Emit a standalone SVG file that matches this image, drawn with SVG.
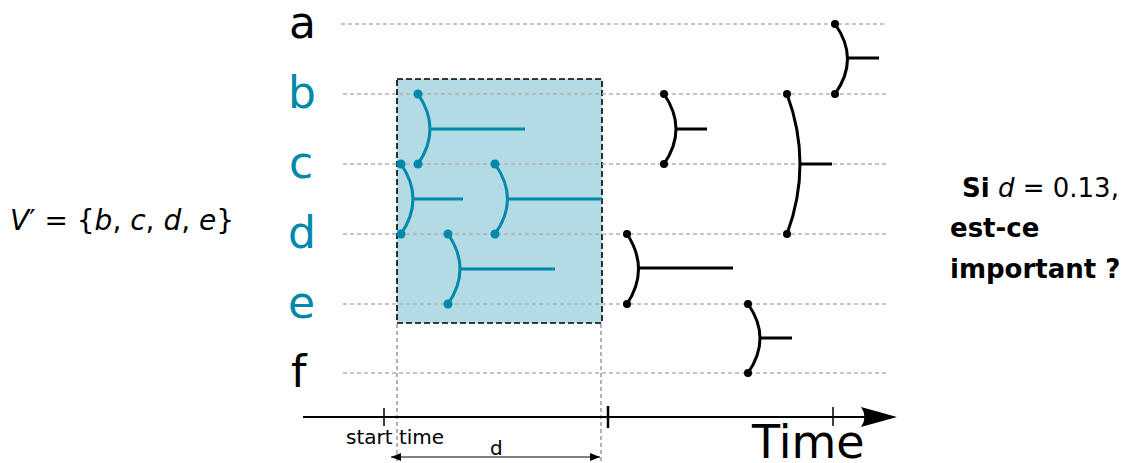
<svg xmlns="http://www.w3.org/2000/svg" width="1134" height="463" viewBox="0 0 1134 463">
<defs>
<style>
.grid{stroke:#b3b3b3;stroke-width:1.5;stroke-dasharray:4,3;fill:none}
.vgrid{stroke:#999;stroke-width:1.5;stroke-dasharray:4,3;fill:none}
.lbl{font-family:"DejaVu Sans",sans-serif;font-size:44px}
.blue{fill:#0088aa}
.blk{fill:#000}
.mb path,.mb line{stroke:#0088aa;stroke-width:3;fill:none}
.mb circle{fill:#0088aa}
.mk path,.mk line{stroke:#000;stroke-width:3;fill:none}
.mk circle{fill:#000}
.txt{font-family:"DejaVu Sans",sans-serif}
</style>
<marker id="ah" viewBox="0 0 10 8" refX="10" refY="4" markerWidth="10" markerHeight="8" markerUnits="userSpaceOnUse" orient="auto-start-reverse">
<path d="M0,0 L10,4 L0,8 Z" fill="#000"/>
</marker>
</defs>
<rect width="1134" height="463" fill="#fff"/>

<g id="window">
<rect x="397" y="79" width="205" height="244" fill="#b3dbe6" stroke="#000" stroke-width="1.6" stroke-dasharray="6,3"/>
</g>

<g id="rows">
<line class="grid" x1="341" y1="24" x2="887" y2="24"/>
<line class="grid" x1="343" y1="94" x2="887" y2="94"/>
<line class="grid" x1="343" y1="164" x2="887" y2="164"/>
<line class="grid" x1="343" y1="234" x2="887" y2="234"/>
<line class="grid" x1="343" y1="304" x2="887" y2="304"/>
<line class="grid" x1="343" y1="373" x2="887" y2="373"/>
<line class="vgrid" x1="397" y1="324" x2="397" y2="463"/>
<line class="vgrid" x1="601" y1="324" x2="601" y2="463"/>
</g>

<g id="labels">
<text class="lbl blk" x="289" y="38">a</text>
<text class="lbl blue" x="288" y="108">b</text>
<text class="lbl blue" x="289" y="178">c</text>
<text class="lbl blue" x="288" y="248">d</text>
<text class="lbl blue" x="288" y="318">e</text>
<text class="lbl blk" x="291" y="387">f</text>
</g>

<g id="connectors">
<g id="m-bc-1" class="mb">
<path d="M418,94 Q442,129 418,164"/><line x1="430" y1="129" x2="525" y2="129"/>
<circle cx="418" cy="94" r="4.5"/><circle cx="418" cy="164" r="4.5"/>
</g>
<g id="m-cd-1" class="mb">
<path d="M401,164 Q425,199 401,234"/><line x1="413" y1="199" x2="463" y2="199"/>
<circle cx="401" cy="164" r="4.5"/><circle cx="401" cy="234" r="4.5"/>
</g>
<g id="m-cd-2" class="mb">
<path d="M495,164 Q520,199 495,234"/><line x1="508" y1="199" x2="602" y2="199"/>
<circle cx="495" cy="164" r="4.5"/><circle cx="495" cy="234" r="4.5"/>
</g>
<g id="m-de-1" class="mb">
<path d="M448,234 Q472,269 448,304"/><line x1="460" y1="269" x2="555" y2="269"/>
<circle cx="448" cy="234" r="4.5"/><circle cx="448" cy="304" r="4.5"/>
</g>
<g id="m-ab" class="mk">
<path d="M835,24 Q860,59 835,94"/><line x1="848" y1="58" x2="879" y2="58"/>
<circle cx="835" cy="24" r="4"/><circle cx="835" cy="94" r="4"/>
</g>
<g id="m-bc-2" class="mk">
<path d="M664,94 Q688,129 664,164"/><line x1="676" y1="129" x2="707" y2="129"/>
<circle cx="664" cy="94" r="4"/><circle cx="664" cy="164" r="4"/>
</g>
<g id="m-bd" class="mk">
<path d="M787,94 Q813,164 787,234"/><line x1="800" y1="164" x2="832" y2="164"/>
<circle cx="787" cy="94" r="4"/><circle cx="787" cy="234" r="4"/>
</g>
<g id="m-de-2" class="mk">
<path d="M627,234 Q650,269 627,304"/><line x1="638" y1="268" x2="733" y2="268"/>
<circle cx="627" cy="234" r="4"/><circle cx="627" cy="304" r="4"/>
</g>
<g id="m-ef" class="mk">
<path d="M748,304 Q772,338 748,373"/><line x1="760" y1="338" x2="792" y2="338"/>
<circle cx="748" cy="304" r="4"/><circle cx="748" cy="373" r="4"/>
</g>
</g>

<g id="axis">
<line x1="303" y1="417" x2="870" y2="417" stroke="#000" stroke-width="2"/>
<path d="M897,417 L861,407 Q868,417 861,427 Z" fill="#000"/>
<line x1="384" y1="408" x2="384" y2="426" stroke="#000" stroke-width="1.5"/>
<line x1="608" y1="406" x2="608" y2="428" stroke="#000" stroke-width="2.5"/>
<line x1="833" y1="407" x2="833" y2="426" stroke="#000" stroke-width="1.5"/>
<text class="txt" x="346" y="444" font-size="20">start time</text>
<text class="txt" x="490" y="455" font-size="20">d</text>
<line x1="391" y1="457" x2="600" y2="457" stroke="#000" stroke-width="1.2" marker-start="url(#ah)" marker-end="url(#ah)"/>
<text class="txt" x="752" y="458" font-size="46">Time</text>
</g>

<g id="set">
<text class="txt" x="10" y="230" font-size="28"><tspan font-style="italic">V</tspan>′ = {<tspan font-style="italic">b</tspan>, <tspan font-style="italic">c</tspan>, <tspan font-style="italic">d</tspan>, <tspan font-style="italic">e</tspan>}</text>
</g>

<g id="question">
<text class="txt" x="962" y="197" font-size="26"><tspan font-weight="bold">Si</tspan> <tspan font-style="italic">d</tspan> = 0.13,</text>
<text class="txt" x="950" y="237" font-size="26" font-weight="bold">est-ce</text>
<text class="txt" x="950" y="278" font-size="26" font-weight="bold">important ?</text>
</g>
</svg>
